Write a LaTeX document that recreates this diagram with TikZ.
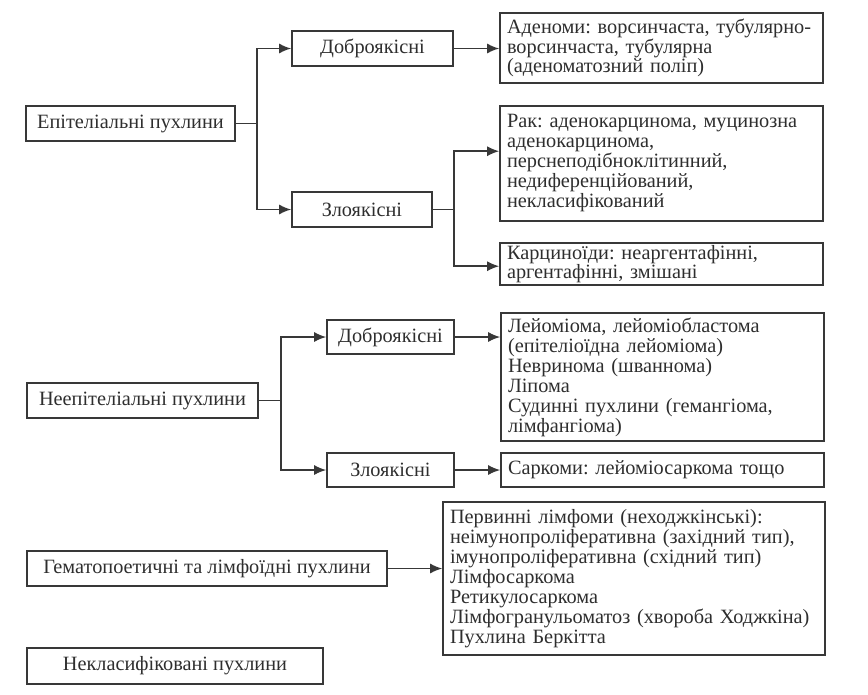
\documentclass[tikz,border=0pt]{standalone}
\usepackage{fontspec}
\setmainfont{Liberation Serif}
\usetikzlibrary{arrows.meta}
\definecolor{linec}{HTML}{383838}
\definecolor{textc}{HTML}{2E2E2E}
\tikzset{
  box/.style={draw=linec, line width=1.6pt, inner sep=0pt, text=textc,
    font=\frenchspacing\fontsize{20.3}{20}\selectfont},
  tightbox/.style={font=\frenchspacing\fontsize{20.3}{18}\selectfont},
  mbox/.style={box, align=left, inner xsep=7pt, inner ysep=0pt},
  conn/.style={draw=linec, line width=1.6pt},
  arr/.style={conn, -{Latex[length=12pt,width=10pt]}}
}
\begin{document}
\begin{tikzpicture}[x=1pt,y=-1pt]
\useasboundingbox (0,0) rectangle (868,694);
% left column
\node[box, minimum width=209pt, minimum height=35pt] (epi) at (130.5,123.5) {Епітеліальні пухлини};
\node[box, minimum width=231pt, minimum height=35pt] (neepi) at (142.5,400.5) {Неепітеліальні пухлини};
\node[box, minimum width=360pt, minimum height=35pt] (gem) at (207,568.5) {Гематопоетичні та лімфоїдні пухлини};
\node[box, minimum width=296pt, minimum height=36pt] (nekl) at (175,666) {Некласифіковані пухлини};
% middle column
\node[box, minimum width=161pt, minimum height=35pt] (ben1) at (372.5,48.5) {Доброякісні};
\node[box, minimum width=140pt, minimum height=35pt] (mal1) at (362,209.5) {Злоякісні};
\node[box, minimum width=127pt, minimum height=34pt] (ben2) at (390.5,337) {Доброякісні};
\node[box, minimum width=127pt, minimum height=34pt] (mal2) at (390.5,470) {Злоякісні};
% right column
\node[mbox, tightbox, text width=309pt, minimum height=70pt] (aden) at (661.5,48) {Аденоми: ворсинчаста, тубулярно-\\ворсинчаста, тубулярна\\(аденоматозний поліп)};
\node[mbox, text width=309pt, minimum height=115pt] (rak) at (661.5,163.5) {Рак: аденокарцинома, муцинозна\\аденокарцинома,\\перснеподібноклітинний,\\недиференційований,\\некласифікований};
\node[mbox, tightbox, text width=309pt, minimum height=42pt] (kar) at (661.5,264) {Карциноїди: неаргентафінні,\\аргентафінні, змішані};
\node[mbox, text width=309pt, minimum height=128pt] (leio) at (662.5,377) {Лейоміома, лейоміобластома\\(епітеліоїдна лейоміома)\\Невринома (шваннома)\\Ліпома\\Судинні пухлини (гемангіома,\\лімфангіома)};
\node[mbox, text width=309pt, minimum height=34pt] (sark) at (662.5,470) {Саркоми: лейоміосаркома тощо};
\node[mbox, text width=368pt, minimum height=153pt] (limf) at (634,578.5) {Первинні лімфоми (неходжкінські):\\неімунопроліферативна (західний тип),\\імунопроліферативна (східний тип)\\Лімфосаркома\\Ретикулосаркома\\Лімфогранульоматоз (хвороба Ходжкіна)\\Пухлина Беркітта};
% junctions
\coordinate (j1) at (257,123.5);
\coordinate (j2) at (454,209.5);
\coordinate (j3) at (281,400.5);
% connectors
\draw[conn] (epi.east) -- (j1);
\draw[arr] (j1) |- (ben1.west);
\draw[arr] (j1) |- (mal1.west);
\draw[arr] (ben1.east) -- (ben1.east -| aden.west);
\draw[conn] (mal1.east) -- (j2);
\draw[arr] (j2) |- ([yshift=-46pt]rak.north west);
\draw[arr] (j2) |- ([yshift=-24pt]kar.north west);
\draw[conn] (neepi.east) -- (j3);
\draw[arr] (j3) |- (ben2.west);
\draw[arr] (j3) |- (mal2.west);
\draw[arr] (ben2.east) -- (ben2.east -| leio.west);
\draw[arr] (mal2.east) -- (mal2.east -| sark.west);
\draw[arr] (gem.east) -- (gem.east -| limf.west);
\end{tikzpicture}
\end{document}
